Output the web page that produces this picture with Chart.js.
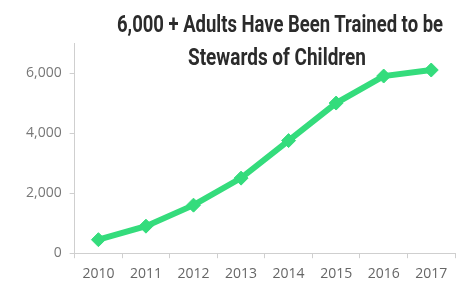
<!DOCTYPE html>
<html>
<head>
<meta charset="utf-8">
<script src="https://cdn.jsdelivr.net/npm/chart.js@4/dist/chart.umd.min.js"></script>
<style>
  html, body { margin: 0; padding: 0; background: #fff; }
  #wrap { position: relative; width: 465px; height: 284px; }
  .title-line {
    position: absolute; white-space: nowrap; color: #2b2b2b;
    font-family: "Roboto", sans-serif; font-weight: 700;
    font-size: 24px; line-height: 26px;
    transform-origin: 0 0;
    pointer-events: none;
  }
</style>
</head>
<body>
<div id="wrap">
  <canvas id="chart" width="465" height="284"></canvas>
  <div class="title-line" id="t1" data-left="117" data-width="326" style="top:11px">6,000 + Adults Have Been Trained to be</div>
  <div class="title-line" id="t2" data-left="188" data-width="178" style="top:44px">Stewards of Children</div>
</div>
<script>
// data
const years = ["2010", "2011", "2012", "2013", "2014", "2015", "2016", "2017"];
const adultsTrained = [450, 900, 1600, 2500, 3750, 5000, 5900, 6100];
const yTickValues = [0, 2000, 4000, 6000];

const green = "#34dc7c";
const axisGray = "#cfcfcf";

// judul dipersempit biar mirip font condensed
document.querySelectorAll(".title-line").forEach(function (el) {
  const w = el.getBoundingClientRect().width;
  const target = Number(el.dataset.width);
  el.style.left = el.dataset.left + "px";
  el.style.transform = "scaleX(" + target / w + ")";
});

new Chart(document.querySelector("#chart"), {
  type: "line",
  data: {
    labels: years,
    datasets: [
      {
        data: adultsTrained,
        borderColor: green,
        backgroundColor: green,
        borderWidth: 6,
        tension: 0,
        pointStyle: "rectRot",
        pointRadius: 7,
        pointBorderWidth: 1,
      },
    ],
  },
  options: {
    responsive: false,
    animation: false,
    layout: { padding: { top: 43, right: 10, left: 18, bottom: -5 } },
    plugins: {
      legend: { display: false },
      tooltip: { enabled: false },
    },
    scales: {
      x: {
        offset: true,
        border: { color: axisGray, width: 1 },
        grid: {
          offset: true,
          drawOnChartArea: false,
          tickLength: 5,
          color: axisGray,
        },
        ticks: {
          color: "#666",
          font: { family: "Open Sans", size: 14 },
          padding: 7,
          maxRotation: 0,
        },
      },
      y: {
        min: 0,
        max: 7000,
        afterBuildTicks: function (axis) {
          axis.ticks = yTickValues.map(function (v) {
            return { value: v };
          });
        },
        border: { color: axisGray, width: 1 },
        grid: {
          drawOnChartArea: false,
          tickLength: 5,
          color: axisGray,
        },
        ticks: {
          color: "#777",
          font: { family: "Open Sans", size: 14 },
          padding: 8,
          callback: function (value) {
            return value.toLocaleString("en-US");
          },
        },
      },
    },
  },
});
</script>
</body>
</html>
